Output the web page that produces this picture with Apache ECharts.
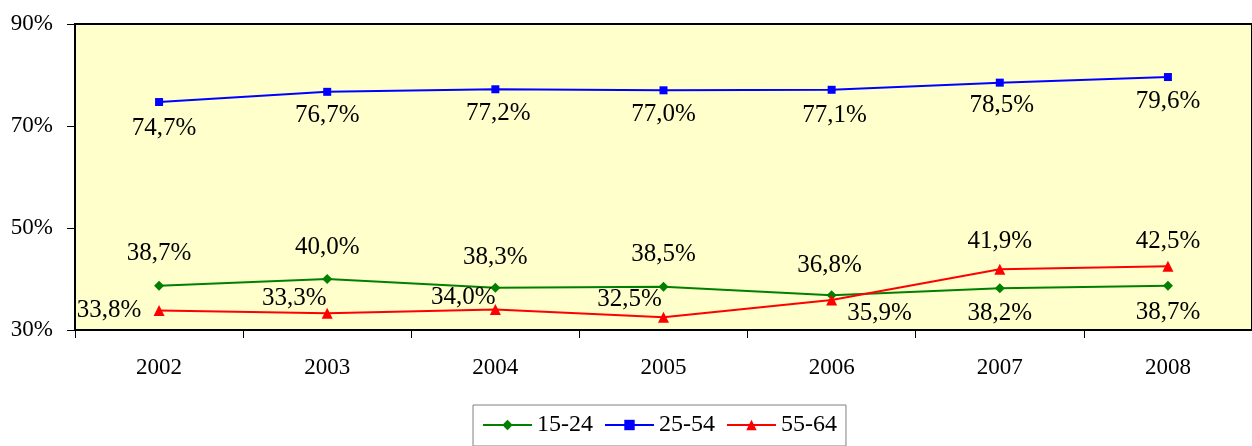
<!DOCTYPE html>
<html><head><meta charset="utf-8">
<script src="https://cdn.jsdelivr.net/npm/echarts@6/dist/echarts.min.js"></script>
<style>html,body{margin:0;padding:0;background:#fff}#c{width:1252px;height:446px}</style>
</head><body><div id="c"></div>
<script>
const categories = ['2002','2003','2004','2005','2006','2007','2008'];
const s1524 = [38.7, 40.0, 38.3, 38.5, 36.8, 38.2, 38.7];
const s2554 = [74.7, 76.7, 77.2, 77.0, 77.1, 78.5, 79.6];
const s5564 = [33.8, 33.3, 34.0, 32.5, 35.9, 41.9, 42.5];
const yTicks = [30, 50, 70, 90];

// label offsets (dx, dy) relative to each point
const off1524 = [[0,-32],[0,-32],[0,-30],[0,-32],[-2,-30],[0,25],[0,27]];
const off2554 = [[5,26],[0,24],[3,24],[0,24],[3,26],[2,23],[0,24]];
const off5564 = [[-50,0],[-33,-15],[-32,-12],[-34,-18],[48,14],[0,-28],[0,-25]];

const fmt = v => v.toFixed(1).replace('.', ',') + '%';
const font = '"Liberation Serif", "DejaVu Serif", serif';
function mk(vals, offs){
  return vals.map((v,i)=>({value:v, label:{offset:offs[i]}}));
}
const lbl = {show:true, position:'inside', color:'#000', fontFamily:font, fontSize:25,
  formatter: p => fmt(p.value)};

const chart = echarts.init(document.getElementById('c'));
chart.setOption({
  animation:false,
  grid:{left:75, right:-2, top:24, bottom:116, show:true, backgroundColor:'#FFFFCC',
    borderColor:'#000', borderWidth:2},
  xAxis:{type:'category', data:categories, boundaryGap:true,
    axisLine:{lineStyle:{color:'#000', width:1.5}},
    axisTick:{show:true, length:8, lineStyle:{color:'#000'}},
    axisLabel:{color:'#000', fontFamily:font, fontSize:23, margin:26}},
  yAxis:{type:'value', min:30, max:90, interval:20,
    axisLine:{show:true, lineStyle:{color:'#000', width:1.5}},
    axisTick:{show:true, length:8, lineStyle:{color:'#000'}},
    splitLine:{show:false},
    axisLabel:{color:'#000', fontFamily:font, fontSize:23, margin:22,
      formatter: v => yTicks.includes(v) ? v + '%' : ''}},
  legend:{top:405, left:473, itemWidth:49, itemHeight:13, itemGap:11,
    borderColor:'#808080', borderWidth:1, padding:[8,9,9,9],
    textStyle:{color:'#000', fontFamily:font, fontSize:24, padding:[0,0,0,0]},
    data:['15-24','25-54','55-64']},
  series:[
    {name:'15-24', type:'line', data:mk(s1524, off1524), symbol:'diamond', symbolSize:10,
      color:'#008000', lineStyle:{width:2, color:'#008000'}, itemStyle:{color:'#008000'}, label:lbl, z:3},
    {name:'25-54', type:'line', data:mk(s2554, off2554), symbol:'rect', symbolSize:8,
      color:'#0000FF', lineStyle:{width:2, color:'#0000FF'}, itemStyle:{color:'#0000FF'}, label:lbl},
    {name:'55-64', type:'line', data:mk(s5564, off5564), symbol:'triangle', symbolSize:11,
      color:'#FF0000', lineStyle:{width:2, color:'#FF0000'}, itemStyle:{color:'#FF0000'}, label:lbl}
  ]
});
</script></body></html>
